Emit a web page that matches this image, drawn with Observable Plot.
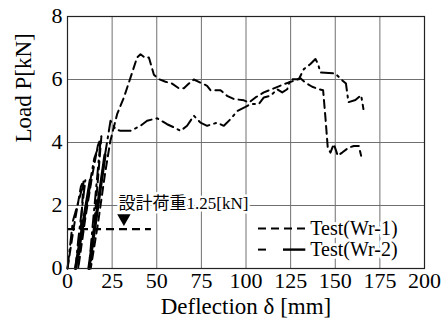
<!DOCTYPE html>
<html><head><meta charset="utf-8">
<script src="https://cdn.jsdelivr.net/npm/d3@7"></script>
<script src="https://cdn.jsdelivr.net/npm/@observablehq/plot@0.6"></script>
<style>body{margin:0;background:#fff}</style>
</head><body><div id="chart"></div>
<script>
const xTicks = [0, 25, 50, 75, 100, 125, 150, 175, 200];
const yTicks = [0, 2, 4, 6, 8];

const wr1X = [0,3.5,7.5,9,7,6,10,14,17,19,15,13,17,21,24,27.8,31.6,35.3,39.0,40.9,43.7,45.6,48.4,51.2,54.9,58.6,62.4,65.2,68.0,70.8,74.5,78.2,80.1,85.7,89.4,93.2,98.8,101.6,105.3,110,115.6,121.2,126.8,130.5,133.3,137.1,140.8,143.2,144.5,145.8,147.3,149.2,151.4,153.9,157.6,160.4,163.2,164.5];
const wr1Y = [0,1.3,2.6,2.8,0.8,0,1.6,3.0,3.9,4.2,1.4,0,1.4,3.0,4.05,4.9,5.43,6.06,6.7,6.8,6.68,6.7,6.15,6.01,5.93,5.87,5.72,5.72,5.87,6.0,5.9,5.8,5.66,5.66,5.48,5.38,5.34,5.27,5.43,5.59,5.72,5.85,5.96,6.04,5.9,5.77,5.69,5.66,4.79,3.84,3.68,3.95,3.58,3.68,3.84,3.89,3.89,3.58];

const wr2X = [0,3,8,10,6,4.5,12.8,15,18.5,14,12,21,24.1,26.9,29.7,35.3,40.9,44.6,50.2,55.8,59.6,63.3,67.0,70.8,74.5,78.2,83.8,87.6,91.3,95.1,99.7,102.5,107.2,110,113.7,117.5,120.3,123.1,124.9,129.6,132.4,136.1,138.9,140.3,141.7,150,154,156,157.4,161.3,164.5,165.8];
const wr2Y = [0,1.5,2.5,2.8,0.9,0,2.8,3.5,4.05,1.3,0,3.6,4.69,4.42,4.37,4.37,4.53,4.69,4.77,4.58,4.48,4.37,4.53,4.85,4.63,4.53,4.63,4.53,4.74,5.0,5.13,5.22,5.22,5.43,5.48,5.69,5.59,5.69,6.01,6.01,6.33,6.49,6.65,6.5,6.22,6.19,5.97,5.87,5.28,5.35,5.5,5.06];

// bold reload strokes of Wr-2 near the origin
const wr2BoldX = [[4.5,12.8],[12,21]];
const wr2BoldY = [[0,2.8],[0,3.6]];

const designLoad = 1.25;
const designLabel = "設計荷重1.25[kN]";
const seriesNames = ["Test(Wr-1)", "Test(Wr-2)"];

const wr1 = wr1X.map((x,i)=>({x, y: wr1Y[i]}));
const wr2 = wr2X.map((x,i)=>({x, y: wr2Y[i]}));
const bold = wr2BoldX.flatMap((xs,k)=>xs.map((x,i)=>({x, y: wr2BoldY[k][i], k})));

const serif = "Liberation Serif, Noto Sans CJK JP, serif";
const dash1 = "8,5";
const dash2 = "12,5,2,5";

// legend layout (data space, inside the frame)
const legX0 = 107, legX1 = 133.5, legTX = 136, legY = [1.27, 0.6];

const chart = Plot.plot({
  width: 445, height: 320,
  marginLeft: 67, marginRight: 21, marginTop: 16, marginBottom: 52,
  style: {fontFamily: serif, fontSize: "22px", color: "black", background: "white"},
  x: {domain: [0, 200], ticks: xTicks},
  y: {domain: [0, 8], ticks: yTicks},
  marks: [
    Plot.gridX(xTicks, {stroke: "#707070", strokeOpacity: 1, strokeWidth: 1}),
    Plot.gridY(yTicks, {stroke: "#707070", strokeOpacity: 1, strokeWidth: 1}),
    Plot.axisX({ticks: xTicks, tickSize: 0, tickPadding: 4, label: null, fontSize: 22, fontFamily: serif}),
    Plot.axisY({ticks: yTicks, tickSize: 0, tickPadding: 5, dy: -1, label: null, fontSize: 22, fontFamily: serif}),
    // design load annotation
    Plot.text([designLabel], {x: 28.6, y: 2.06, text: d=>d, textAnchor: "start", lineAnchor: "middle", fontSize: 17, fontFamily: serif, stroke: "white", strokeWidth: 5, fill: "black", paintOrder: "stroke"}),
    Plot.ruleY([designLoad], {x1: 0, x2: 47, stroke: "black", strokeWidth: 2.2, strokeDasharray: "8,5"}),
    Plot.dot([designLoad], {x: 31.6, y: 1.6, symbol: "triangle", rotate: 180, r: 5, fill: "black", stroke: "none"}),
    // series
    Plot.line(wr1, {x: "x", y: "y", stroke: "black", strokeWidth: 2, strokeDasharray: dash1}),
    Plot.line(wr2, {x: "x", y: "y", stroke: "black", strokeWidth: 2, strokeDasharray: dash2}),
    Plot.line(bold, {x: "x", y: "y", z: "k", stroke: "black", strokeWidth: 3.2}),
    // legend
    Plot.text(seriesNames, {x: legTX, y: (d,i)=>legY[i], text: d=>d, textAnchor: "start", lineAnchor: "middle", fontSize: 20, fontFamily: serif, stroke: "white", strokeWidth: 6, fill: "black", paintOrder: "stroke"}),
    Plot.ruleY([legY[0]], {y: d=>d, x1: legX0, x2: legX1, stroke: "black", strokeWidth: 2, strokeDasharray: "8,5"}),
    Plot.ruleY([legY[1]], {y: d=>d, x1: legX0, x2: 113, stroke: "black", strokeWidth: 2, strokeDasharray: "8,5,2,5"}),
    Plot.ruleY([legY[1]], {y: d=>d, x1: 121, x2: legX1, stroke: "black", strokeWidth: 2.4}),
    Plot.frame({stroke: "#222", strokeWidth: 1.2}),
    // axis titles
    Plot.text(["Deflection δ [mm]"], {frameAnchor: "bottom", dy: 38, text: d=>d, fontSize: 23, fontFamily: serif, lineAnchor: "middle"}),
    Plot.text(["Load P[kN]"], {frameAnchor: "left", dx: -44, rotate: -90, text: d=>d, fontSize: 23, fontFamily: serif, lineAnchor: "middle"})
  ]
});
document.getElementById("chart").appendChild(chart);
</script>
</body></html>
